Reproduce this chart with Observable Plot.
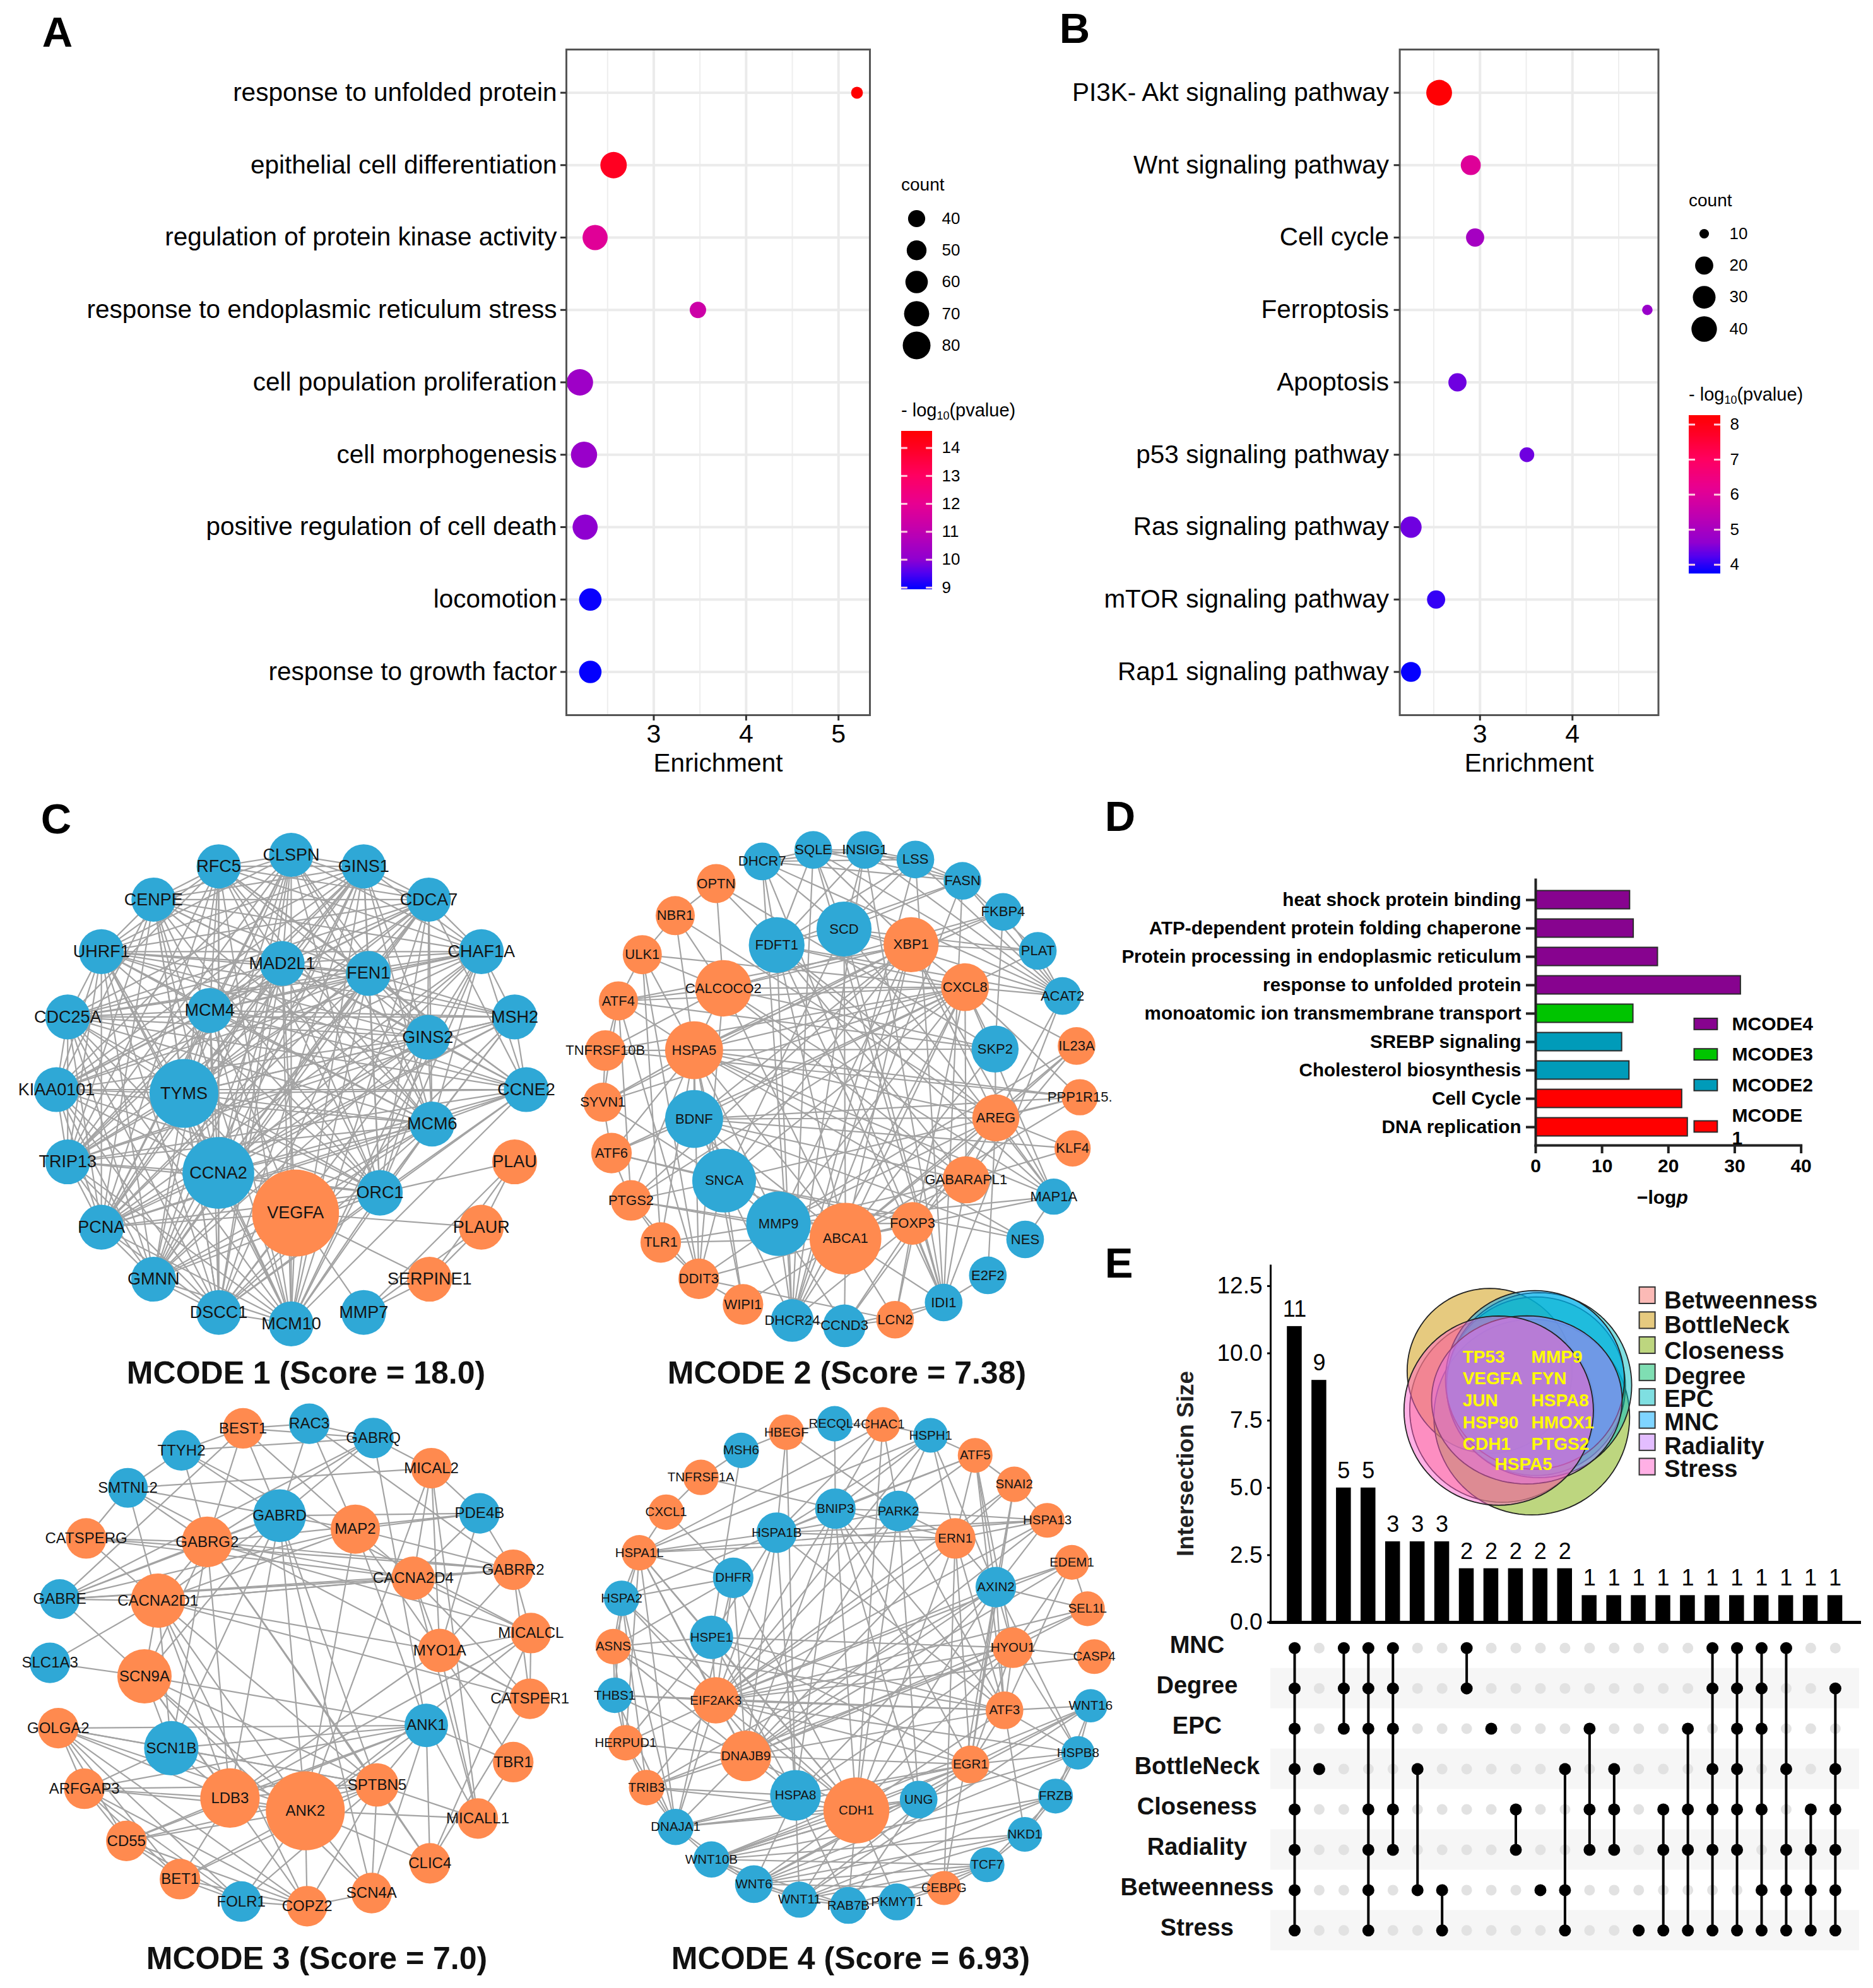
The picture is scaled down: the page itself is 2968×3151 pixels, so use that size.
<!DOCTYPE html>
<html><head><meta charset="utf-8">
<script src="https://cdn.jsdelivr.net/npm/d3@7"></script>
<script src="https://cdn.jsdelivr.net/npm/@observablehq/plot@0.6"></script>
<style>
html,body{margin:0;padding:0;background:#fff}
#root{position:relative;width:2968px;height:3151px;overflow:hidden;font-family:"Liberation Sans",Arial,sans-serif;color:#000}
.t{position:absolute;line-height:1;white-space:nowrap;transform:translate(-50%,-50%)}
.l{position:absolute;line-height:1;white-space:nowrap;transform:translateY(-50%)}
sub{font-size:62%;vertical-align:-0.3em;line-height:0}
</style></head><body><div id="root"></div>
<script>
// ---------- Panel A ----------
const aTerms=["response to unfolded protein","epithelial cell differentiation","regulation of protein kinase activity","response to endoplasmic reticulum stress","cell population proliferation","cell morphogenesis","positive regulation of cell death","locomotion","response to growth factor"];
const aEnrich=[5.2,2.565,2.365,3.478,2.2,2.245,2.257,2.313,2.313];
const aCount=[20,75,70,37,75,74,70,60,60];
const aLogP=[14.6,14,11.8,11.3,10.3,10.2,10,9,8.95];
const aCountTicks=[40,50,60,70,80];
const aColorTicks=[9,10,11,12,13,14];
// ---------- Panel B ----------
const bTerms=["PI3K- Akt signaling pathway","Wnt signaling pathway","Cell cycle","Ferroptosis","Apoptosis","p53 signaling pathway","Ras signaling pathway","mTOR signaling pathway","Rap1 signaling pathway"];
const bEnrich=[2.558,2.9,2.947,4.81,2.756,3.507,2.253,2.525,2.253];
const bCount=[41,24,20,11,20,16,27,20,24];
const bLogP=[8.2,6,4.95,4.75,4.4,4.4,4.4,4.05,3.78];
const bCountTicks=[10,20,30,40];
const bColorTicks=[4,5,6,7,8];
// gradient of both colour bars: position along the bar, and colour there
const barStops=[0,0.1,0.19,0.366,0.543,0.72,0.896,1];
const barColors=["#0000ff","#5000f0","#9000d0","#c000b0","#e80090","#ff0060","#ff0020","#ff0000"];
// ---------- Panel C networks (positions in a 0-1568 layout space of each sub-panel) ----------
const m1Names=["CLSPN","RFC5","GINS1","CENPE","CDCA7","UHRF1","CHAF1A","MAD2L1","FEN1","CDC25A","MCM4","MSH2","GINS2","KIAA0101","TYMS","CCNE2","MCM6","TRIP13","PLAU","CCNA2","ORC1","VEGFA","PCNA","PLAUR","SERPINE1","GMNN","DSCC1","MMP7","MCM10"];
const m1X=[803,603,1003,423,1183,279,1328,778,1016,186,578,1420,1180,155,507,1452,1192,186,1420,602,1048,815,279,1328,1185,423,603,1003,803];
const m1Y=[156,186,186,273,273,409,409,440,466,580,563,580,633,770,780,770,860,959,959,988,1040,1093,1130,1130,1266,1266,1353,1353,1383];
const m1Size=[122,122,122,122,122,124,124,124,124,124,124,124,124,124,190,124,124,124,124,198,126,240,124,124,124,124,124,124,124];
const m1Orange=["PLAU","VEGFA","PLAUR","SERPINE1"];
const m1Edges=["0:1 2 3 4 5 6 7 8 10 12 13 14 16 17 19 20 22 25 26 28","1:2 3 4 5 6 7 8 9 10 12 14 15 16 17 19 20 22 26 28","2:3 4 5 6 7 8 9 10 12 13 14 16 17 19 20 22 25 26 28","3:4 5 6 7 8 10 12 13 14 16 17 19 20 22 26 28","4:5 6 7 8 9 10 12 13 14 15 16 17 19 20 22 25 28","5:6 7 8 9 10 11 12 13 14 15 16 17 19 20 22 25 26 28","6:7 8 9 10 11 12 13 14 15 16 19 20 22 25 28","7:8 9 10 11 12 13 14 15 16 17 19 20 21 22 25 26 28","8:9 10 11 12 13 14 15 16 17 19 20 22 25 26 28","9:10 11 12 13 14 15 16 17 19 20 22 25 26 28","10:11 12 13 14 15 16 17 19 20 21 22 25 26 28","11:12 14 15 16 17 19 20 22 26","12:13 14 15 16 17 19 20 22 25 26 28","13:14 15 16 17 19 20 22 25 26 28","14:15 16 17 19 20 21 22 25 26 28","15:16 17 19 20 22 26 28","16:17 19 20 21 22 25 26 28","17:19 20 22 25 26 28","18:20 23 24 27","19:20 21 22 25 26 28","20:21 22 25 26 28","21:22 23 24 25 26 27 28","22:25 26 28","23:24 27","24:27","25:26 28","26:28"];
const m2Names=["DHCR7","SQLE","INSIG1","LSS","FASN","FKBP4","PLAT","ACAT2","IL23A","PPP1R15.","KLF4","MAP1A","NES","E2F2","IDI1","LCN2","CCND3","DHCR24","WIPI1","DDIT3","TLR1","PTGS2","ATF6","SYVN1","TNFRSF10B","ATF4","ULK1","NBR1","OPTN","FDFT1","SCD","XBP1","CALCOCO2","CXCL8","HSPA5","SKP2","BDNF","AREG","GABARAPL1","SNCA","MMP9","ABCA1","FOXP3"];
const m2X=[605,746,888,1028,1158,1270,1366,1434,1473,1482,1462,1410,1331,1228,1106,972,832,688,552,430,325,243,189,165,172,208,274,365,478,645,831,1016,498,1165,417,1248,417,1250,1168,500,650,835,1020];
const m2Y=[173,143,143,168,224,305,407,525,656,790,924,1050,1162,1256,1327,1372,1388,1374,1332,1265,1170,1060,936,803,668,538,417,315,231,392,350,391,505,502,667,664,847,844,1006,1008,1121,1160,1120];
const m2Size=[104,104,104,104,104,104,104,104,104,100,100,100,104,104,104,104,118,118,112,112,112,112,112,108,112,108,108,108,108,154,152,152,156,132,160,130,160,130,130,176,178,198,118];
const m2Orange=["IL23A","PPP1R15.","KLF4","LCN2","WIPI1","DDIT3","TLR1","PTGS2","ATF6","SYVN1","TNFRSF10B","ATF4","ULK1","NBR1","OPTN","XBP1","CALCOCO2","CXCL8","HSPA5","AREG","GABARAPL1","ABCA1","FOXP3"];
const m2Edges=["0:1 2 3 4 7 14 17 29 30","1:2 3 4 7 14 17 29 30 31","2:3 4 7 14 17 29 30","3:4 7 14 17 29 30","4:6 7 14 17 29 30","5:7 31 32 34 35","6:7 30 31 33","7:14 29 30 33 37","8:33 37 38 40 41","9:33 34 36 37 39 41","10:36 37 38","11:12 29 30 31 32 33 34 37 40 41","12:34 36 39","13:14 37","14:15 16 29 30 38 41 42","15:16 19 33 41 42","16:17 37 40 41 42","17:29 31 33 36 40 41 42","18:19 34 39 41","19:20 21 25 26 32 34 39 40 41","20:21 26 34 40 41","21:22 25 31 33 34 39 40 41","22:23 33 34 36 39 42","23:24 25 31 33 34 39","24:9 25 32 33 34","25:26 31 32 33 34 35","26:27 32 33 34","27:28 32 34 37","28:29 32 35","29:30 33 37 38 41","30:31 39 41","31:32 33 34 36 37 39 40 41","32:33 34 35 38 41","33:34 35 36 38 39 40 41","34:35 36 37 38 39 40 41","35:37 41","36:37 38 39 40 41","37:38 40 41 42","38:40 41 42","39:40 41","40:41 42","41:42"];
const m3Names=["BEST1","RAC3","TTYH2","GABRQ","MICAL2","SMTNL2","PDE4B","GABRD","MAP2","CATSPERG","GABRG2","GABRR2","CACNA2D4","GABRE","CACNA2D1","MICALCL","MYO1A","SLC1A3","SCN9A","CATSPER1","ANK1","GOLGA2","SCN1B","TBR1","ARFGAP3","SPTBN5","LDB3","ANK2","MICALL1","CD55","CLIC4","BET1","SCN4A","FOLR1","COPZ2"];
const m3X=[670,853,500,1030,1190,352,1323,771,980,237,571,1416,1140,164,435,1465,1213,137,398,1462,1176,160,472,1416,232,1040,634,842,1318,348,1186,496,1025,665,847];
const m3Y=[120,108,177,145,223,274,340,346,381,405,414,486,508,562,566,650,695,727,762,820,889,896,948,984,1053,1043,1077,1110,1130,1188,1246,1287,1323,1345,1357];
const m3Size=[112,112,112,112,112,110,112,146,136,112,140,112,120,110,150,112,120,112,150,112,120,112,150,112,112,120,164,218,112,112,112,112,112,112,112];
const m3Blue=["RAC3","TTYH2","GABRQ","SMTNL2","PDE4B","GABRD","GABRE","SLC1A3","ANK1","SCN1B","FOLR1"];
const m3Edges=["0:1 2 3 7 8 10 13","1:3 7 8 11","2:3 5 7 10 15","3:4 7 10 13 20","4:5 6 12 16 27 28","5:9 10 14 19 7","6:7 8 10 11 12 16","7:8 10 13 14 18 22 25 26 27 32","8:11 12 13 14 16 20 27","9:10 11 12 14","10:11 12 13 14 15 18 22 25 26 30","11:12 13 14 15 16 19","12:13 14 15 16 19 28","13:14 18","14:16 17 18 19 22 25 26 27 34","15:16 19 26 27 30","16:19 23 26 28","17:18","18:20 22 25 26 27 32 34","19:30","20:21 22 23 24 25 26 27 28 29 30 32","21:22 24 25 26 27 29 31 33 34","22:24 25 26 27","23:28","24:25 26 27 29 31 33 34","25:26 27 28 29 30 31 32 33 34","26:27 29 31","27:28 29 30 31 32 33 34","29:31 33 34","31:33 34","32:34","33:34"];
const m4Names=["HBEGF","RECQL4","CHAC1","MSH6","HSPH1","ATF5","TNFRSF1A","SNAI2","CXCL1","HSPA13","BNIP3","PARK2","HSPA1B","ERN1","HSPA1L","EDEM1","DHFR","AXIN2","HSPA2","SEL1L","HSPE1","ASNS","HYOU1","CASP4","THBS1","EIF2AK3","ATF3","WNT16","HERPUD1","HSPB8","DNAJB9","EGR1","TRIB3","FRZB","HSPA8","UNG","CDH1","DNAJA1","NKD1","WNT10B","TCF7","WNT6","CEBPG","WNT11","RAB7B","PKMYT1"];
const m4X=[672,805,938,547,1070,1193,436,1301,340,1392,807,981,645,1138,266,1460,525,1250,217,1503,465,194,1297,1522,198,477,1274,1512,228,1477,560,1180,286,1415,697,1037,865,366,1330,465,1226,582,1107,708,843,977];
const m4Y=[130,108,110,177,138,190,247,265,337,358,328,334,390,405,442,467,507,531,560,587,661,685,688,711,811,824,850,838,934,960,968,990,1050,1072,1070,1081,1109,1152,1171,1236,1250,1300,1310,1340,1355,1346];
const m4Size=[98,98,96,98,96,96,98,98,98,96,112,112,112,112,98,96,112,112,98,96,120,98,112,96,98,128,104,92,98,92,140,104,98,96,140,104,182,100,96,100,96,104,94,100,102,102];
const m4Orange=["HBEGF","CHAC1","ATF5","TNFRSF1A","SNAI2","CXCL1","HSPA13","ERN1","HSPA1L","EDEM1","SEL1L","ASNS","HYOU1","CASP4","EIF2AK3","ATF3","HERPUD1","DNAJB9","EGR1","TRIB3","CDH1","CEBPG"];
const m4Edges=["0:1 3 11 12 34","1:2 10","2:4 10 11 12 14 36","3:20","4:5 10 11 12 13 14 17 25","5:7 10 11 12 13 17 22 26","6:3 8 10","7:9 13 17 25 31","8:6 14 16","9:11 12 13 14 17 25 30","10:11 12 13 25 26 30 31 34 35 36","11:12 13 25 26 30 35 36","12:13 14 18 20 25 26 30 34","13:14 17 25 26 30 31 36 42","14:16 18 20 21 25 28 30 36 37","15:17 19 22 25 26 30","16:18 21 25 30 36 37","17:19 22 25 26 29 30 31 32 34 36 42","18:21 24 25 32 36 37","19:22 25 30","20:21 22 25 26 28 31 34 36","21:24 25 26 28 30","22:23 25 26 29 30 31 32 34 36","23:25","24:25 26 28 30 37","25:26 28 29 30 31 32 34 36 37","26:27 29 30 31 36 38","27:29 31 33 39 41 43","28:30 32 37","29:31 33 38 39 41","30:31 32 34 36 37","31:33 34 36 37 39 41 43","32:34 36 37","33:38 39 40 41 43","34:36 37 41 43 44","35:36 37 39 44","36:37 39 41 42 43 44 45","37:39 41","38:39 40 41 43","39:40 41 43 44","40:41 42 43 44 45","41:42 43 44","42:45","43:44","44:45"];
// ---------- Panel D ----------
const dTerms=["heat shock protein binding","ATP-dependent protein folding chaperone","Protein processing in endoplasmic reticulum","response to unfolded protein","monoatomic ion transmembrane transport","SREBP signaling","Cholesterol biosynthesis","Cell Cycle","DNA replication"];
const dValues=[14.2,14.75,18.4,30.9,14.7,13,14.1,22.05,22.9];
const dGroups=["MCODE4","MCODE4","MCODE4","MCODE4","MCODE3","MCODE2","MCODE2","MCODE1","MCODE1"];
const dColorDomain=["MCODE4","MCODE3","MCODE2","MCODE1"];
const dColorRange=["#87038f","#00c400","#009bb9","#ff0000"];
// ---------- Panel E ----------
const eSizes=[11,9,5,5,3,3,3,2,2,2,2,2,1,1,1,1,1,1,1,1,1,1,1];
const eRows=["MNC","Degree","EPC","BottleNeck","Closeness","Radiality","Betweenness","Stress"];
const eMembers=[[0,1,2,3,4,5,6,7],[3],[0,1,2],[0,1,2,4,5,6,7],[0,1,2,4,5],[3,6],[6,7],[0,1],[2],[4,5],[6],[3,6,7],[2,4,5],[3,4,5],[7],[4,5,7],[2,4,5,7],[0,1,3,4,5,7],[0,1,2,3,4,5,7],[0,1,2,4,6,7],[0,3,5,6,7],[4,5,6,7],[1,3,4,5,6,7]];
const vSets=["Betweenness","BottleNeck","Closeness","Degree","EPC","MNC","Radiality","Stress"];
const vColors=["#F8766D","#CD9600","#7CAE00","#00BE67","#00BFC4","#00A9FF","#C77CFF","#FF61CC"];
const vCx=[817.3,791.7,876.9,885.4,891.8,883.3,867,810];
const vCy=[692.9,537,722.4,598.5,594.3,573.2,653.3,696.3];
const vRx=[187.3,166.9,198,181,187.3,181,192.8,191.6];
const vRy=[371,330.5,392,358,371,358,337,379.4];
const vLegendY=[235,335,435,544,643,735,824,922];
const vLabelY=[255,355,458,560,652,745,840,932];
const vGenes=["TP53","MMP9","VEGFA","FYN","JUN","HSPA8","HSP90","HMOX1","CDH1","PTGS2","HSPA5"];
const vGeneX=[737,876,737,876,737,876,737,876,737,876,802];
const vGeneY=[481,481,567,567,657,657,744,744,830,830,913];

const root=document.getElementById("root");
const FONT='"Liberation Sans",Arial,sans-serif';
const BLUE="#2fa8d6",ORANGE="#ff8a4f";
function place(svg,left,top){
  Object.assign(svg.style,{position:"absolute",left:left+"px",top:top+"px",background:"transparent",overflow:"visible",maxWidth:"none",fontFamily:FONT,color:"#000"});
  root.append(svg);return svg;
}
function html(cls,content,x,y,style){
  const d=document.createElement("div");d.className=cls;d.innerHTML=content;
  d.style.left=x+"px";d.style.top=y+"px";Object.assign(d.style,style||{});root.append(d);
}
// --------- dot plots (A, B) ---------
function dotPanel(o){
  const rows=o.terms.map((t,i)=>({t,x:o.enrich[i],c:o.count[i],p:o.logp[i]}));
  const color={type:"linear",domain:barStops.map(s=>o.barLo+s*(o.barHi-o.barLo)),range:barColors,interpolate:"rgb",clamp:true};
  const r={type:"linear",domain:o.rDomain,range:o.rRange};
  place(Plot.plot({
    width:o.right+20,height:1260,marginLeft:o.left,marginRight:20,marginTop:78,marginBottom:127,
    x:{domain:o.xDomain,label:null},
    y:{type:"point",domain:o.terms,padding:0.597,round:false,label:null},
    color,r,
    marks:[
      Plot.ruleX(o.minor,{stroke:"#eeeeee",strokeWidth:2}),
      Plot.ruleX(o.major,{stroke:"#ebebeb",strokeWidth:4}),
      Plot.ruleY(o.terms,{y:d=>d,stroke:"#ebebeb",strokeWidth:4}),
      Plot.dot(rows,{x:"x",y:"t",r:"c",fill:"p"}),
      Plot.frame({stroke:"#555555",strokeWidth:3}),
      Plot.axisY({tickSize:9,tickPadding:o.tickPad,fontSize:40.5,label:null,strokeWidth:3,stroke:"#333"}),
      Plot.axisX({ticks:o.major.filter(Number.isInteger),tickFormat:"d",tickSize:9,tickPadding:5,fontSize:41,label:null,strokeWidth:3,stroke:"#333"}),
      Plot.text(["Enrichment"],{frameAnchor:"bottom",dy:77,lineAnchor:"middle",text:d=>d,fontSize:40.5})
    ]}),0,0).style.left=o.offset+"px";
  // size legend
  place(Plot.plot({
    width:120,height:o.sizeBottom-o.sizeTop,margin:0,
    x:{domain:[0,1],axis:null},y:{domain:[d3.min(o.countTicks),d3.max(o.countTicks)],reverse:true,axis:null},r,
    marks:[
      Plot.dot(o.countTicks,{x:0,y:d=>d,r:d=>d,fill:"black"}),
      Plot.text(o.countTicks,{x:0,y:d=>d,dx:40,text:d=>String(d),textAnchor:"start",fontSize:26})
    ]}),o.sizeX,o.sizeTop);
  html("l","count",o.legendX,o.countY,{fontSize:"28px"});
  // colour bar
  const step=0.02,vals=d3.range(o.barLo,o.barHi,step);
  place(Plot.plot({
    width:o.barW,height:o.barBottom-o.barTop,margin:0,
    x:{domain:[0,1],axis:null},y:{domain:[o.barLo,o.barHi],axis:null},color,
    marks:[
      Plot.rect(vals,{x1:0,x2:1,y1:d=>d,y2:d=>Math.min(d+step*2,o.barHi),fill:d=>d,shapeRendering:"crispEdges"}),
      Plot.ruleY(o.colorTicks,{y:d=>d,x1:0,x2:0.2,stroke:"#ffd0e0",strokeWidth:3}),
      Plot.ruleY(o.colorTicks,{y:d=>d,x1:0.8,x2:1,stroke:"#ffd0e0",strokeWidth:3}),
      Plot.text(o.colorTicks,{x:1,y:d=>d,dx:o.barDx,text:d=>String(d),textAnchor:"start",fontSize:26})
    ]}),o.legendX,o.barTop);
  html("l","- log<sub>10</sub>(pvalue)",o.legendX,o.logY,{fontSize:"29px"});
}
dotPanel({terms:aTerms,enrich:aEnrich,count:aCount,logp:aLogP,offset:0,left:897,right:1378,xDomain:[2.054,5.34],tickPad:6,
  minor:[2.5,3.5,4.5],major:[3,4,5],rDomain:[20,40,80],rRange:[9.4,13.6,22],
  countTicks:aCountTicks,sizeTop:346,sizeBottom:547,sizeX:1452,legendX:1428,countY:293,
  barLo:8.93,barHi:14.6,barTop:683,barBottom:934,barW:49,barDx:15,colorTicks:aColorTicks,logY:650});
dotPanel({terms:bTerms,enrich:bEnrich,count:bCount,logp:bLogP,offset:1600,left:617.6,right:1027.5,xDomain:[2.132,4.93],tickPad:8,
  minor:[2.5,3.5,4.5],major:[3,4],rDomain:[10,20,30,40],rRange:[7.6,14.4,18,20.2],
  countTicks:bCountTicks,sizeTop:370,sizeBottom:521,sizeX:2700,legendX:2676,countY:318,
  barLo:3.75,barHi:8.26,barTop:657.5,barBottom:908,barW:50,barDx:15,colorTicks:bColorTicks,logY:625});

// --------- networks (C) ---------
function parseEdges(list){
  const seen=new Set(),out=[];
  for(const line of list){
    const [a,rest]=line.split(":");
    for(const b of rest.trim().split(/\s+/)){
      const k=Math.min(+a,+b)+"-"+Math.max(+a,+b);
      if(!seen.has(k)){seen.add(k);out.push([+a,+b]);}
    }
  }
  return out;
}
function network(names,xs,ys,sizes,isOrange,edges,fs,left,top,w,h){
  const nodes=names.map((n,i)=>({n,x:xs[i],y:ys[i],s:sizes[i],k:isOrange(n)?"o":"b"}));
  const links=parseEdges(edges).map(([a,b])=>({a:nodes[a],b:nodes[b]}));
  place(Plot.plot({
    width:w,height:h,margin:0,
    x:{domain:[0,1568],axis:null},y:{domain:[1568,0],axis:null},
    r:{type:"linear",domain:[0,1568],range:[0,w/2]},
    color:{domain:["b","o"],range:[BLUE,ORANGE]},
    marks:[
      Plot.link(links,{x1:d=>d.a.x,y1:d=>d.a.y,x2:d=>d.b.x,y2:d=>d.b.y,stroke:"#a3a3a3",strokeWidth:2.2}),
      Plot.dot(nodes,{x:"x",y:"y",r:"s",fill:"k"}),
      Plot.text(nodes,{x:"x",y:"y",text:"n",fontSize:fs,fill:"#141414"})
    ]}),left,top);
}
const inList=l=>n=>l.includes(n);
network(m1Names,m1X,m1Y,m1Size,inList(m1Orange),m1Edges,27,0,1260,900,950);
network(m2Names,m2X,m2Y,m2Size,inList(m2Orange),m2Edges,22,860,1260,900,950);
network(m3Names,m3X,m3Y,m3Size,n=>!m3Blue.includes(n),m3Edges,24,0,2190,900,960);
network(m4Names,m4X,m4Y,m4Size,inList(m4Orange),m4Edges,20.5,860,2190,900,960);
const titleStyle={fontSize:"50px",fontWeight:"700",color:"#111"};
html("t","MCODE 1 (Score = 18.0)",485,2176,titleStyle);
html("t","MCODE 2 (Score = 7.38)",1342,2176,titleStyle);
html("t","MCODE 3 (Score = 7.0)",502,3104,titleStyle);
html("t","MCODE 4 (Score = 6.93)",1348,3104,titleStyle);

// --------- bars (D) ---------
const dRows=dTerms.map((t,i)=>({t,v:dValues[i],g:dGroups[i]}));
place(Plot.plot({
  width:1130,height:700,marginLeft:693,marginRight:1130-1113.6,marginTop:134,marginBottom:700-555,
  x:{domain:[0,40],label:null},
  y:{type:"band",domain:dTerms,range:[143.5,548.5],paddingInner:0.356,paddingOuter:0.178,round:false,label:null},
  color:{domain:dColorDomain,range:dColorRange},
  marks:[
    Plot.barX(dRows,{x:"v",y:"t",fill:"g",stroke:"#2a2a2a",strokeWidth:2}),
    Plot.frame({anchor:"left",stroke:"#222",strokeWidth:4}),
    Plot.frame({anchor:"bottom",stroke:"#222",strokeWidth:4}),
    Plot.axisY({tickSize:15,tickPadding:8,fontSize:29.6,fontWeight:700,label:null,strokeWidth:4,stroke:"#222"}),
    Plot.axisX({ticks:[0,10,20,30,40],tickSize:13,tickPadding:8,fontSize:30,fontWeight:700,label:null,strokeWidth:4,stroke:"#222"}),
    Plot.text(["−log"],{x:21.2,frameAnchor:"bottom",dy:83,lineAnchor:"middle",textAnchor:"end",text:d=>d,fontSize:30,fontWeight:700}),
    Plot.text(["p"],{x:21.2,frameAnchor:"bottom",dy:83,lineAnchor:"middle",textAnchor:"start",text:d=>d,fontSize:30,fontWeight:700,fontStyle:"italic"})
  ]}),1740,1260);
// D legend, in the 0-1568 layout space of the sub-panel
const dLegendY=[813,921,1030,1177];
const dLegend=dColorDomain.map((g,i)=>({g,y:dLegendY[i]}));
place(Plot.plot({
  width:1228,height:700,margin:0,
  x:{domain:[0,1568],axis:null},y:{domain:[1568,0],axis:null},
  color:{domain:dColorDomain,range:dColorRange},
  marks:[
    Plot.rect(dLegend,{x1:1206,x2:1253,y1:d=>d.y-20,y2:d=>d.y+20,fill:"g",stroke:"#2a2a2a",strokeWidth:2}),
    Plot.text(dLegend.slice(0,3),{x:1282,y:"y",text:"g",textAnchor:"start",fontSize:30,fontWeight:700}),
    Plot.text(["MCODE"],{x:1282,y:1138,text:d=>d,textAnchor:"start",fontSize:30,fontWeight:700}),
    Plot.text(["1"],{x:1282,y:1218,text:d=>d,textAnchor:"start",fontSize:30,fontWeight:700})
  ]}),1740,1260);

// --------- UpSet (E) ---------
const eBars=eSizes.map((v,i)=>({i,v}));
const eIdx=eSizes.map((_,i)=>i);
place(Plot.plot({
  width:1220,height:620,marginLeft:273,marginRight:14,marginTop:45.5,marginBottom:9,
  x:{type:"band",domain:eIdx,range:[2031.5-1740,2927-1740],paddingInner:0.396,paddingOuter:0.198,round:false,axis:null},
  y:{domain:[0,13.26],label:null},
  marks:[
    Plot.barY(eBars,{x:"i",y:"v",fill:"black"}),
    Plot.text(eBars,{x:"i",y:"v",dy:-27,text:d=>String(d.v),fontSize:36}),
    Plot.frame({anchor:"left",stroke:"black",strokeWidth:3}),
    Plot.frame({anchor:"bottom",stroke:"black",strokeWidth:5}),
    Plot.axisY({ticks:[0,2.5,5,7.5,10,12.5],tickFormat:".1f",tickSize:5,tickPadding:8,fontSize:37,label:null,strokeWidth:3}),
    Plot.text(["Intersection Size"],{y:5.9,frameAnchor:"left",dx:-134,rotate:-90,textAnchor:"middle",text:d=>d,fontSize:37,fontWeight:700,fill:"#222"})
  ]}),1740,1960);
// matrix
const eRowIdx=eRows.map((_,i)=>i);
const eGrey=[],eOn=[],eLinks=[];
eMembers.forEach((m,c)=>{
  eRowIdx.forEach(r=>{ (m.includes(r)?eOn:eGrey).push({c,r}); });
  if(m.length>1) eLinks.push({c,a:d3.min(m),b:d3.max(m)});
});
place(Plot.plot({
  width:1220,height:560,marginLeft:273,marginRight:14,marginTop:2579.7-2560,marginBottom:560-(3091.3-2560),
  x:{domain:[-0.976,22.98],axis:null},
  y:{domain:[7.5,-0.5],axis:null},
  marks:[
    Plot.rect([1,3,5,7],{x1:-0.976,x2:22.98,y1:d=>d-0.5,y2:d=>d+0.5,fill:"#f6f6f6"}),
    Plot.dot(eGrey,{x:"c",y:"r",r:8.5,fill:"#e2e2e2"}),
    Plot.ruleX(eLinks,{x:"c",y1:"a",y2:"b",stroke:"black",strokeWidth:4}),
    Plot.dot(eOn,{x:"c",y:"r",r:9.5,fill:"black"}),
    Plot.text(eRows,{x:-3.97,y:(d,i)=>i,dy:-4,text:d=>d,fontSize:38,fontWeight:700,fill:"#111"})
  ]}),1740,2560);
// venn + legend in the 0-1568 layout space of the sub-panel
const vPts=vSets.flatMap((s,i)=>d3.range(0,96).map(k=>{
  const t=k/96*2*Math.PI;
  return {s,x:vCx[i]+vRx[i]*Math.cos(t),y:vCy[i]+vRy[i]*Math.sin(t)};
}));
const vGeneRows=vGenes.map((g,i)=>({g,x:vGeneX[i],y:vGeneY[i]}));
const vLeg=vSets.map((s,i)=>({s,y:vLegendY[i],ly:vLabelY[i]}));
place(Plot.plot({
  width:1228,height:620,margin:0,
  x:{domain:[0,1568],axis:null},y:{domain:[1568,0],axis:null},
  color:{domain:vSets,range:vColors},
  marks:[
    Plot.line(vPts,{x:"x",y:"y",z:"s",fill:"s",fillOpacity:0.5,stroke:"#222",strokeWidth:1.8,curve:"linear-closed"}),
    Plot.text(vGeneRows,{x:"x",y:"y",text:"g",textAnchor:"start",fill:"#ffff00",fontSize:28,fontWeight:700}),
    Plot.rect(vLeg,{x1:1095,x2:1127,y1:d=>d.y-33,y2:d=>d.y+33,fill:"s",fillOpacity:0.5,stroke:"#333",strokeWidth:2}),
    Plot.text(vLeg,{x:1145,y:"ly",text:"s",textAnchor:"start",fontSize:38,fontWeight:700,fill:"#111"})
  ]}),1740,1960);

// --------- panel letters ---------
const letterStyle={fontSize:"67px",fontWeight:"700"};
[["A",91,50],["B",1703,44],["C",89,1297],["D",1775,1293],["E",1773,2001]].forEach(([l,x,y])=>html("t",l,x,y,letterStyle));
</script></body></html>
